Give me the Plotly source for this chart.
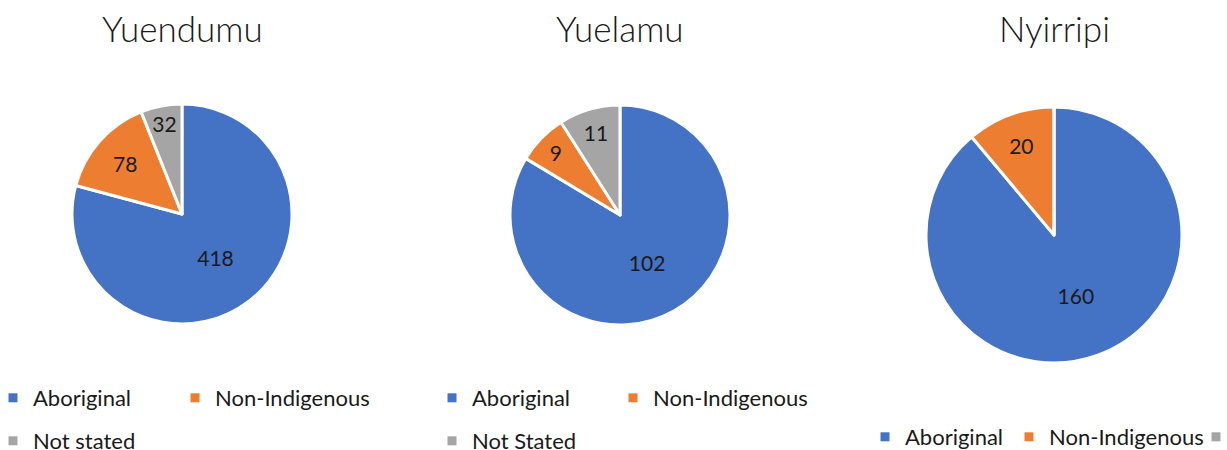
import plotly.graph_objects as go

# ---- data ----
categories_yuendumu = ["Aboriginal", "Non-Indigenous", "Not stated"]
values_yuendumu = [418, 78, 32]
categories_yuelamu = ["Aboriginal", "Non-Indigenous", "Not Stated"]
values_yuelamu = [102, 9, 11]
categories_nyirripi = ["Aboriginal", "Non-Indigenous", "Not stated"]
values_nyirripi = [160, 20, 0]
titles = ["Yuendumu", "Yuelamu", "Nyirripi"]
colors = ["#4472C4", "#ED7D31", "#A5A5A5"]

W, H = 1227, 450
FONT = "Lato"
TXT = "#1a1a1a"

def px_dom_x(a, b):
    return [a / W, b / W]

def px_dom_y(top, bottom):
    return [1 - bottom / H, 1 - top / H]

pies = [
    (categories_yuendumu, values_yuendumu, px_dom_x(72, 292), px_dom_y(104, 324)),
    (categories_yuelamu, values_yuelamu, px_dom_x(510, 730), px_dom_y(105, 325)),
    (categories_nyirripi, values_nyirripi, px_dom_x(926, 1182), px_dom_y(107, 363)),
]

fig = go.Figure()
for labs, vals, dx, dy in pies:
    fig.add_trace(go.Pie(
        labels=labs, values=vals, sort=False, direction="clockwise", rotation=0,
        domain=dict(x=dx, y=dy),
        marker=dict(colors=colors, line=dict(color="white", width=3)),
        textinfo="value", textposition="inside", insidetextorientation="horizontal",
        textfont=dict(family=FONT, size=21, color=TXT),
        showlegend=False, hoverinfo="label+value",
    ))

# legend entries (one legend per row of the reference)
legend_rows = [
    ("legend", categories_yuendumu[:2], colors[:2], [137, 175]),
    ("legend2", categories_yuendumu[2:], colors[2:], [120]),
    ("legend3", categories_yuelamu[:2], colors[:2], [136, 175]),
    ("legend4", categories_yuelamu[2:], colors[2:], [120]),
    ("legend5", categories_nyirripi, colors, [99, 142, 120]),
]
for lg, labs, cols, widths in legend_rows:
    for k, (lab, col) in enumerate(zip(labs, cols)):
        fig.add_trace(go.Scatter(
            x=[None], y=[None], mode="markers", name=lab, legend=lg,
            marker=dict(symbol="square", size=9, color=col),
            legendwidth=widths[k], hoverinfo="skip",
        ))

def leg(xpx, ypx):
    return dict(orientation="h", x=xpx / W, y=1 - ypx / H, xanchor="left", yanchor="middle",
                font=dict(family=FONT, size=22, color=TXT), bgcolor="rgba(0,0,0,0)",
                itemclick=False, itemdoubleclick=False, entrywidthmode="pixels")

annotations = []
for t, (_, _, dx, dy) in zip(titles, pies):
    annotations.append(dict(
        text=t, x=(dx[0] + dx[1]) / 2, y=1 - 28 / H, xref="paper", yref="paper",
        xanchor="center", yanchor="middle", showarrow=False,
        font=dict(family=FONT, size=35, color=TXT, weight=300),
    ))

fig.update_layout(
    width=W, height=H,
    margin=dict(l=0, r=0, t=0, b=0, autoexpand=False),
    paper_bgcolor="white", plot_bgcolor="white",
    xaxis=dict(visible=False), yaxis=dict(visible=False),
    legend=leg(-7, 398),
    legend2=leg(-7, 441),
    legend3=leg(432, 398),
    legend4=leg(432, 441),
    legend5=leg(865, 437),
    annotations=annotations,
)

fig.write_html("out.html", config={"displayModeBar": False},
               post_script="document.body.style.margin='0';document.body.style.overflow='hidden';")
